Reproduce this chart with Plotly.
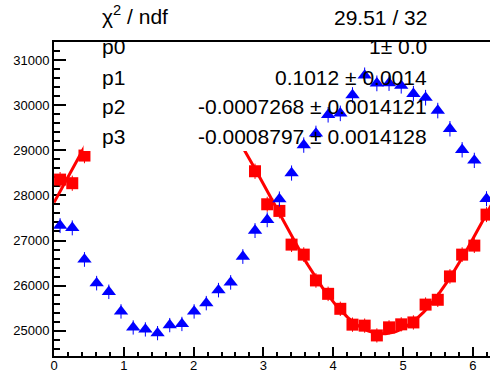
import numpy as np
import plotly.graph_objects as go

# ---------------- data ----------------
n_bins = 36
x_low, x_high = 0.0, 2 * np.pi
bin_centers = x_low + (np.arange(n_bins) + 0.5) * (x_high - x_low) / n_bins

blue_counts = [27330, 27280, 26580, 26055, 25863, 25428, 25073, 25029, 24947,
               25125, 25150, 25428, 25612, 25900, 26071, 26645, 27220, 27460,
               27920, 28495, 29115, 29374, 29787, 29818, 30224, 30660, 30483,
               30490, 30431, 30253, 30165, 29880, 29477, 29011, 28776, 27925]

red_counts = [28350, 28270, 28883, 29500, 29880, 30230, 30520, 30760, 30880,
              30840, 30690, 30480, 30190, 29880, 29540, 29200, 28535, 27803,
              27656, 26909, 26687, 26115, 25818, 25486, 25135, 25113, 24896,
              25075, 25142, 25184, 25579, 25686, 26204, 26687, 26887, 27574]

stat_labels = ["χ<sup>2</sup> / ndf", "p0", "p1", "p2", "p3"]
stat_values = ["29.51 / 32", "1± 0.0", "0.1012 ± 0.0014",
               "-0.0007268 ± 0.0014121", "-0.0008797 ± 0.0014128"]

y_tick_vals = [25000, 26000, 27000, 28000, 29000, 30000, 31000]
x_tick_vals = [0, 1, 2, 3, 4, 5, 6]

# ---------------- fit (weighted least squares) ----------------
xr = np.asarray(bin_centers)
yr = np.asarray(red_counts, dtype=float)
w = 1.0 / np.sqrt(yr)
A = np.vstack([np.ones_like(xr), np.sin(xr), np.cos(xr)]).T
coef, *_ = np.linalg.lstsq(A * w[:, None], yr * w, rcond=None)
xf = np.linspace(x_low, x_high, 300)
yf = coef[0] + coef[1] * np.sin(xf) + coef[2] * np.cos(xf)

# ---------------- layout geometry ----------------
W, H = 490, 374
ml, mr, mt, mb = 54, 0, 42, 18
x_range = [0, 6.246]
y_range = [24440, 31400]


def px_to_x(px):
    return x_range[0] + (px - ml) / (W - ml - mr) * (x_range[1] - x_range[0])


def py_to_y(py):
    return y_range[1] - (py - mt) / (H - mt - mb) * (y_range[1] - y_range[0])


def px_to_paper(px):
    return (px - ml) / (W - ml - mr)


def py_to_paper(py):
    return (H - mb - py) / (H - mt - mb)


fig = go.Figure()

# red histogram
fig.add_trace(go.Scatter(
    x=bin_centers, y=red_counts, mode="markers",
    marker=dict(symbol="square", size=12, color="#ff0000", line=dict(width=0)),
    error_y=dict(type="data", array=np.sqrt(red_counts), color="#ff0000",
                 thickness=1, width=0),
    showlegend=False, hoverinfo="skip"))

# fit line
fig.add_trace(go.Scatter(
    x=xf, y=yf, mode="lines", line=dict(color="#ff0000", width=3),
    showlegend=False, hoverinfo="skip"))

# stats box (white fill, drawn between red and blue)
bx0, bx1 = px_to_x(83.5), px_to_x(448.3)
by0, by1 = py_to_y(151), py_to_y(-20)
fig.add_trace(go.Scatter(
    x=[bx0, bx1, bx1, bx0, bx0], y=[by0, by0, by1, by1, by0],
    mode="lines", fill="toself", fillcolor="white",
    line=dict(width=0, color="white"), showlegend=False, hoverinfo="skip"))

# blue histogram
fig.add_trace(go.Scatter(
    x=bin_centers, y=blue_counts, mode="markers",
    marker=dict(symbol="triangle-up", size=12.5, color="#0000ff", line=dict(width=0)),
    error_y=dict(type="data", array=np.sqrt(blue_counts), color="#0000ff",
                 thickness=1, width=0),
    showlegend=False, hoverinfo="skip"))

font_family = "Liberation Sans, Arial, Helvetica, sans-serif"
row_py = [15, 46.5, 77.2, 106.8, 136.4]
for lab, val, py in zip(stat_labels, stat_values, row_py):
    fig.add_annotation(x=px_to_paper(100), y=py_to_paper(py), xref="paper", yref="paper",
                       text=lab, showarrow=False, xanchor="left", yanchor="middle",
                       font=dict(family=font_family, size=21, color="black"))
    fig.add_annotation(x=px_to_paper(428.5), y=py_to_paper(py + (2.5 if py < 20 else 0)),
                       xref="paper", yref="paper",
                       text=val, showarrow=False, xanchor="right", yanchor="middle",
                       font=dict(family=font_family, size=21, color="black"))

fig.update_layout(
    template="none",
    width=W, height=H,
    margin=dict(l=ml, r=mr, t=mt, b=mb, pad=0, autoexpand=False),
    paper_bgcolor="white", plot_bgcolor="white",
    font=dict(family=font_family, size=13, color="black"),
    xaxis=dict(range=x_range, showgrid=False, zeroline=False, automargin=False,
               showline=True, linecolor="black", linewidth=2, mirror=True,
               ticks="inside", ticklen=9, tickwidth=2, tickcolor="black",
               tickvals=x_tick_vals, ticktext=[str(v) for v in x_tick_vals],
               ticklabelstandoff=-4,
               minor=dict(dtick=0.2, tick0=0, ticks="inside", ticklen=4.5,
                          tickwidth=2, tickcolor="black", showgrid=False),
               layer="below traces", tickfont=dict(size=13)),
    yaxis=dict(range=y_range, showgrid=False, zeroline=False, automargin=False,
               showline=True, linecolor="black", linewidth=2,
               ticks="inside", ticklen=12, tickwidth=2, tickcolor="black",
               tickvals=y_tick_vals, ticktext=[str(v) for v in y_tick_vals],
               minor=dict(dtick=200, tick0=0, ticks="inside", ticklen=6,
                          tickwidth=2, tickcolor="black", showgrid=False),
               layer="below traces", tickfont=dict(size=13)),
)

fig.write_html("out.html", config={"displayModeBar": False},
               post_script="document.body.style.margin='0';document.body.style.padding='0';")
